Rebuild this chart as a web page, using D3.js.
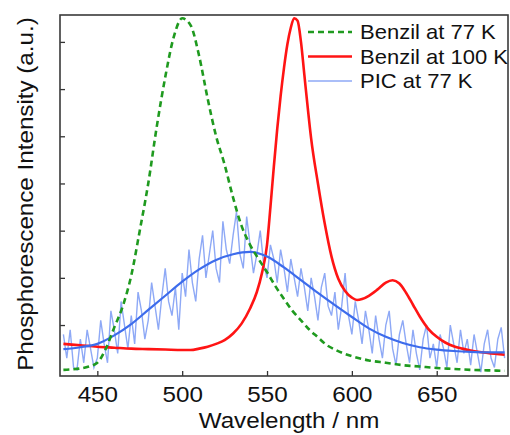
<!DOCTYPE html>
<html>
<head>
<meta charset="utf-8">
<script src="https://cdn.jsdelivr.net/npm/d3@7"></script>
<style>
  body { margin: 0; background: #fff; }
  text { font-family: "Liberation Sans", Arial, sans-serif; fill: #111; }
</style>
</head>
<body>
<div id="chart"></div>
<script>
// values (intensity in tick units, a.u.)
let xTicks = [450, 500, 550, 600, 650]
let yTicks = [1, 2, 3, 4, 5, 6, 7]

let green77 = [
    [430, 0.05], [435, 0.06], [440, 0.08], [445, 0.12], [450, 0.2], [455, 0.5], [460, 0.95],
    [465, 1.4], [470, 2.05], [475, 3.0], [480, 4.0], [485, 5.2], [490, 6.25], [495, 7.1],
    [500, 7.5], [505, 7.35], [510, 6.7], [515, 5.8], [520, 5.0], [525, 4.4], [530, 3.7],
    [535, 3.1], [540, 2.7], [545, 2.4], [550, 2.12], [555, 1.82], [560, 1.55], [565, 1.3],
    [570, 1.1], [575, 0.9], [580, 0.74], [585, 0.58], [590, 0.48], [595, 0.4], [600, 0.34],
    [610, 0.25], [620, 0.2], [630, 0.15], [640, 0.12], [650, 0.09], [660, 0.07], [670, 0.05],
    [680, 0.04], [690, 0.03]
]

let red100 = [
    [430, 0.6], [440, 0.57], [450, 0.54], [460, 0.52], [470, 0.5], [480, 0.49], [490, 0.48],
    [500, 0.47], [505, 0.47], [510, 0.5], [515, 0.54], [520, 0.6], [525, 0.68], [530, 0.82],
    [535, 1.03], [540, 1.35], [544, 1.7], [547, 2.1], [550, 2.7], [552, 3.5], [554, 4.35],
    [556, 5.15], [558, 5.85], [560, 6.45], [562, 6.95], [564, 7.3], [566, 7.5], [568, 7.45],
    [570, 7.0], [572, 6.3], [574, 5.6], [576, 4.95], [580, 4.0], [584, 3.15], [588, 2.45],
    [592, 1.98], [596, 1.72], [600, 1.58], [603, 1.53], [606, 1.55], [610, 1.62], [615, 1.75],
    [620, 1.9], [624, 1.95], [628, 1.88], [632, 1.68], [636, 1.43], [640, 1.18], [645, 0.92],
    [650, 0.75], [655, 0.63], [660, 0.55], [665, 0.5], [670, 0.46], [680, 0.41], [690, 0.37]
]

// PIC raw spectrum, 2 nm steps from 430 nm
let picStart = 430, picStep = 2
let picRaw = [
    0.8, 0.3, 0.9, 0.1, 0.05, 0.7, 0.2, 0.9, 0.5, 0.1,
    0.3, 1.1, 0.6, 0.2, 1.3, 0.9, 0.4, 1.5, 1.0, 0.5,
    1.2, 0.6, 1.7, 1.3, 0.7, 1.1, 1.9, 1.4, 0.9, 1.6,
    2.2, 1.5, 1.2, 1.8, 0.9, 2.1, 1.6, 2.6, 1.9, 1.5,
    2.4, 2.9, 2.0, 2.5, 3.0, 2.2, 1.9, 3.2, 2.6, 2.3,
    2.9, 3.4, 2.5, 2.2, 3.3, 2.7, 2.1, 2.5, 3.0, 2.3,
    2.0, 2.7, 2.4, 1.9, 2.6, 2.2, 1.7, 2.4, 2.0, 1.6,
    2.2, 1.8, 1.3, 2.0, 1.6, 1.1, 1.8, 2.1, 1.4, 1.2,
    1.7, 0.9, 1.4, 2.1, 1.2, 0.8, 1.5, 1.1, 0.6, 1.3,
    0.9, 0.4, 1.2, 0.7, 0.3, 1.0, 1.3, 0.5, 0.15, 0.8,
    1.1, 0.6, 0.2, 0.9, 0.4, 0.05, 0.7, 1.0, 0.3, 0.6,
    0.1, 0.8, 0.5, 0.1, 1.0, 0.6, 0.2, 0.9, 0.4, 0.7,
    0.15, 0.8, 0.4, 0.0, 0.6, 0.9, 0.3, 0.1, 0.7, 0.95,
    0.3
]

let picFit = [
    [430, 0.49], [440, 0.53], [450, 0.6], [460, 0.78], [470, 1.02], [480, 1.32], [490, 1.62],
    [500, 1.92], [510, 2.18], [520, 2.38], [530, 2.5], [540, 2.55], [550, 2.45], [560, 2.22],
    [570, 1.95], [580, 1.68], [590, 1.42], [600, 1.17], [610, 0.93], [620, 0.75], [630, 0.62],
    [640, 0.53], [650, 0.48], [660, 0.45], [670, 0.43], [680, 0.42], [690, 0.42]
]

let legendLabels = ['Benzil at 77 K', 'Benzil at 100 K', 'PIC at 77 K']

let svgWidth = 510
let svgHeight = 435

let frame = { left: 60, right: 508, top: 15, bottom: 376 }
let stretch = 1.1

let svg = d3.select('#chart')
    .append('svg')
    .attr('width', svgWidth)
    .attr('height', svgHeight)

let x = d3.scaleLinear().domain([428, 692]).range([frame.left, frame.right])
let y = d3.scaleLinear().domain([-0.08, 7.57]).range([frame.bottom, frame.top])

svg.append('clipPath')
    .attr('id', 'plotClip')
    .append('rect')
    .attr('x', frame.left)
    .attr('y', frame.top)
    .attr('width', frame.right - frame.left)
    .attr('height', frame.bottom - frame.top)

let line = d3.line()
    .x(d => x(d[0]))
    .y(d => y(d[1]))
    .curve(d3.curveMonotoneX)

let rawLine = d3.line()
    .x((d, i) => x(picStart + i * picStep))
    .y(d => y(d))

let plot = svg.append('g').attr('clip-path', 'url(#plotClip)')

plot.append('path')
    .datum(picRaw)
    .attr('d', rawLine)
    .attr('fill', 'none')
    .attr('stroke', '#8ea9f6')
    .attr('stroke-width', 1.4)

plot.append('path')
    .datum(red100)
    .attr('d', line)
    .attr('fill', 'none')
    .attr('stroke', '#ff1414')
    .attr('stroke-width', 2.6)

plot.append('path')
    .datum(picFit)
    .attr('d', line)
    .attr('fill', 'none')
    .attr('stroke', '#3d6cec')
    .attr('stroke-width', 2.2)

plot.append('path')
    .datum(green77)
    .attr('d', line)
    .attr('fill', 'none')
    .attr('stroke', '#1f9a1f')
    .attr('stroke-width', 2.6)
    .attr('stroke-dasharray', '6,4')

// axes (ticks point inward)
let xAxis = svg.append('g')
    .attr('transform', `translate(0, ${frame.bottom})`)
    .call(d3.axisBottom(x).tickValues(xTicks).tickSize(-5).tickFormat(d3.format('d')))

xAxis.select('.domain').remove()
xAxis.selectAll('line').attr('stroke', '#333').attr('stroke-width', 1.3)
xAxis.selectAll('text')
    .attr('y', 26)
    .attr('dy', 0)
    .attr('font-size', 22)
    .attr('transform', `scale(${stretch},1)`)
    .style('font-family', '"Liberation Sans", Arial, sans-serif')
    .attr('fill', '#111')

let yAxis = svg.append('g')
    .attr('transform', `translate(${frame.left}, 0)`)
    .call(d3.axisLeft(y).tickValues(yTicks).tickSize(-5).tickFormat(''))

yAxis.select('.domain').remove()
yAxis.selectAll('line').attr('stroke', '#333').attr('stroke-width', 1.3)

svg.append('rect')
    .attr('x', frame.left)
    .attr('y', frame.top)
    .attr('width', frame.right - frame.left)
    .attr('height', frame.bottom - frame.top)
    .attr('fill', 'none')
    .attr('stroke', '#3a3a3a')
    .attr('stroke-width', 1.6)

// axis titles
svg.append('text')
    .attr('transform', `translate(${(197 + 381) / 2}, 428) scale(${stretch},1)`)
    .attr('text-anchor', 'middle')
    .attr('font-size', 22)
    .text('Wavelength / nm')

svg.append('text')
    .attr('transform', `translate(33, 194) rotate(-90) scale(${stretch},1)`)
    .attr('text-anchor', 'middle')
    .attr('font-size', 22)
    .text('Phosphorescence Intensity (a.u.)')

// legend
let legendStyles = [
    { color: '#1f9a1f', width: 2.6, dash: '6,4' },
    { color: '#ff1414', width: 2.6, dash: null },
    { color: '#8ea9f6', width: 1.4, dash: null }
]

let legend = svg.append('g')
    .attr('transform', 'translate(308, 32)')

let items = legend.selectAll('g')
    .data(legendLabels)
    .enter()
    .append('g')
    .attr('transform', (d, i) => `translate(0, ${i * 24.5})`)

items.append('line')
    .attr('x1', 0)
    .attr('x2', 44)
    .attr('stroke', (d, i) => legendStyles[i].color)
    .attr('stroke-width', (d, i) => legendStyles[i].width)
    .attr('stroke-dasharray', (d, i) => legendStyles[i].dash)

items.append('text')
    .attr('transform', `translate(52, 7) scale(${stretch},1)`)
    .attr('font-size', 20)
    .text(d => d)
</script>
</body>
</html>
